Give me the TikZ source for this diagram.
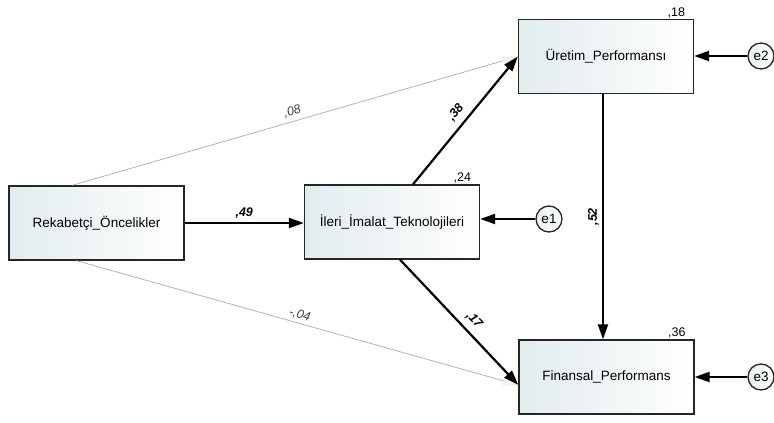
\documentclass[tikz,border=0pt]{standalone}
\usepackage{fontspec}
\setmainfont{Liberation Sans}
\usetikzlibrary{arrows.meta}
\definecolor{boxshade}{RGB}{226,236,239}
\begin{document}
\begin{tikzpicture}[
  x=1pt, y=-1pt,
  obs/.style={rectangle, draw=black!85, line width=1.3pt, minimum width=175pt, minimum height=74pt, inner sep=2pt, left color=boxshade, right color=white, font=\fontsize{13.5}{15}\selectfont},
  err/.style={circle, draw=black!85, line width=1.3pt, minimum size=26pt, inner sep=0pt, left color=boxshade!80, right color=white, font=\fontsize{13.5}{15}\selectfont},
  sigpath/.style={line width=2.2pt, -{Triangle[length=15pt,width=10pt]}},
  weakpath/.style={draw=gray!65, line width=0.7pt, -{Triangle[length=15pt,width=10pt,color=black!6]}},
  coef/.style={font=\fontsize{12.5}{14}\selectfont\bfseries\itshape, inner sep=2pt},
  wcoef/.style={font=\fontsize{12.5}{14}\selectfont\itshape, text=black!75, inner sep=2pt},
  rsq/.style={font=\fontsize{12.5}{14}\selectfont, inner sep=1pt, anchor=south east, xshift=-8pt}
]
\useasboundingbox (0,0) rectangle (774,423);
\node[obs] (rek) at (96.5,223) {Rekabetçi\_Öncelikler};
\node[obs, label={[rsq]north east:{,24}}] (ileri) at (392,222) {İleri\_İmalat\_Teknolojileri};
\node[obs, label={[rsq]north east:{,18}}] (uretim) at (606,56.5) {Üretim\_Performansı};
\node[obs, label={[rsq]north east:{,36}}] (finans) at (606.5,377) {Finansal\_Performans};
\node[err] (e1) at (549,219) {e1};
\node[err] (e2) at (761,56) {e2};
\node[err] (e3) at (761,377) {e3};

\draw[sigpath] (rek.east) -- (rek.east -| ileri.west) node[coef, midway, above=1pt] {,49};
\draw[weakpath] ([xshift=-24.5pt]rek.north) -- (uretim.west) node[wcoef, midway, above=2pt, sloped] {,08};
\draw[weakpath] ([xshift=-20pt]rek.south) -- ([yshift=-8pt]finans.west) node[wcoef, midway, above=1pt, sloped] {-,04};
\draw[sigpath] ([xshift=21pt]ileri.north) -- (uretim.west) node[coef, midway, above=4pt, sloped] {,38};
\draw[sigpath] ([xshift=8pt]ileri.south) -- ([yshift=-8pt]finans.west) node[coef, pos=0.55, above=4pt, sloped] {,17};
\draw[sigpath] ([xshift=-3pt]uretim.south) -- ([xshift=-3pt]uretim.south |- finans.north) node[coef, midway, anchor=south, rotate=90, yshift=1pt] {,52};
\draw[sigpath] (e1) -- (e1 -| ileri.east);
\draw[sigpath] (e2) -- (e2 -| uretim.east);
\draw[sigpath] (e3) -- (e3 -| finans.east);
\end{tikzpicture}
\end{document}
